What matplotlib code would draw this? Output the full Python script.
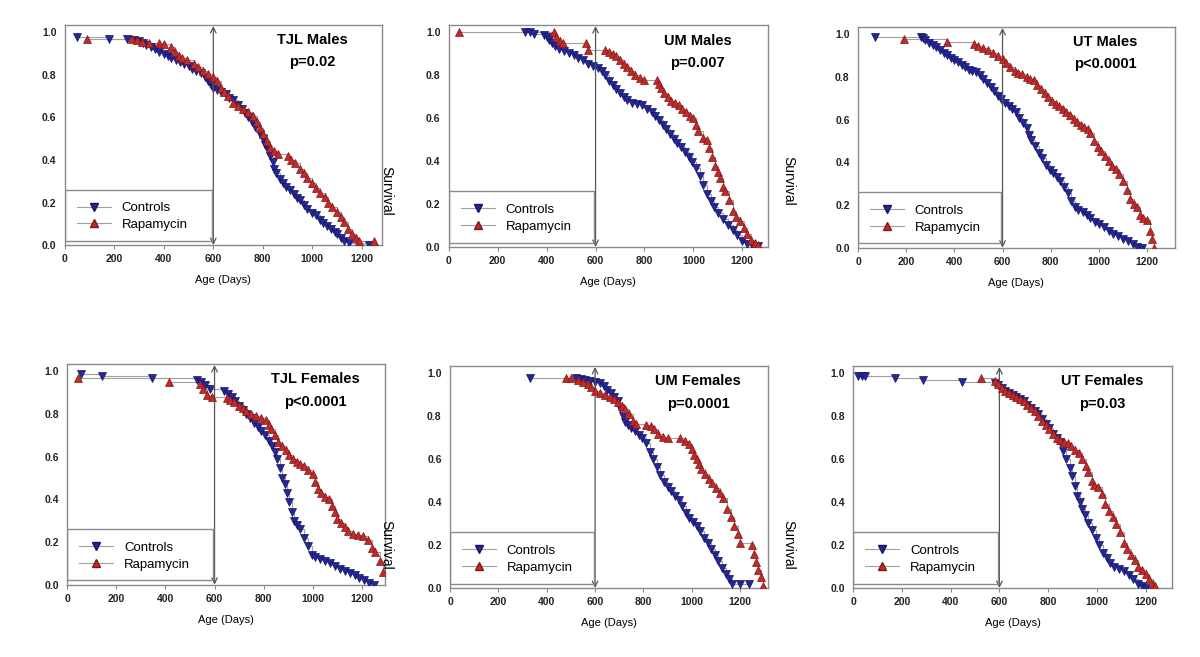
import matplotlib
matplotlib.use("Agg")
import matplotlib.pyplot as plt
from matplotlib.patches import Rectangle
from matplotlib.lines import Line2D

plt.rcParams['font.family'] = ['Liberation Sans', 'DejaVu Sans']

# --- data: (age in days, fraction surviving) ---
tjl_m_ctrl = [(50, .98), (180, .97), (250, .97), (280, .965), (300, .96), (315, .95), (330, .94), (350, .93),
              (365, .92), (380, .91), (400, .90), (415, .89), (430, .88), (450, .87), (465, .86), (480, .85),
              (500, .84), (515, .83), (530, .82), (550, .81), (565, .79), (580, .77), (590, .755), (600, .74),
              (615, .73), (630, .72), (650, .71), (665, .69), (680, .68), (700, .66), (715, .64), (730, .62),
              (740, .60), (755, .58), (770, .555), (790, .52), (800, .50), (810, .47), (820, .445), (830, .42),
              (840, .39), (845, .36), (855, .34), (870, .31), (880, .29), (895, .275), (910, .26), (925, .24),
              (940, .22), (950, .21), (965, .19), (980, .17), (1000, .15), (1015, .14), (1030, .12),
              (1045, .105), (1060, .09), (1075, .075), (1090, .06), (1100, .05), (1115, .035), (1130, .02),
              (1150, .01), (1230, 0.0)]
tjl_m_rapa = [(90, .97), (270, .97), (290, .965), (310, .955), (340, .95), (380, .95), (400, .945), (430, .93),
              (445, .91), (460, .89), (475, .88), (495, .87), (520, .85), (540, .835), (560, .82), (580, .805),
              (600, .79), (615, .77), (630, .74), (645, .72), (660, .70), (680, .67), (700, .655), (720, .64),
              (740, .625), (760, .605), (775, .58), (790, .55), (800, .52), (815, .49), (830, .455), (845, .44),
              (860, .43), (900, .42), (915, .40), (930, .385), (950, .36), (965, .34), (980, .315), (1000, .29),
              (1015, .27), (1030, .245), (1050, .225), (1065, .20), (1080, .18), (1100, .155), (1115, .13),
              (1130, .11), (1145, .075), (1160, .05), (1175, .035), (1190, .02), (1250, .02)]

um_m_ctrl = [(310, 1.0), (330, 1.0), (350, .995), (390, .99), (400, .98), (410, .965), (420, .95), (435, .935),
             (450, .925), (470, .915), (490, .905), (510, .895), (530, .88), (550, .87), (570, .855), (590, .845),
             (610, .835), (625, .82), (640, .80), (655, .775), (670, .755), (685, .735), (700, .72), (715, .70),
             (730, .685), (750, .67), (770, .665), (790, .66), (810, .645), (830, .63), (845, .61), (860, .59),
             (875, .57), (890, .55), (905, .525), (920, .505), (935, .485), (950, .465), (965, .445), (980, .42),
             (995, .395), (1010, .37), (1025, .33), (1040, .29), (1055, .245), (1070, .215), (1085, .185),
             (1100, .16), (1120, .13), (1140, .105), (1160, .08), (1180, .055), (1200, .03), (1220, .015),
             (1240, .01), (1265, .005)]
um_m_rapa = [(40, 1.0), (430, 1.0), (440, .98), (455, .96), (465, .95), (560, .95), (570, .92), (640, .92),
             (655, .91), (670, .90), (685, .89), (700, .87), (715, .855), (730, .84), (745, .82), (760, .80),
             (780, .79), (800, .78), (850, .78), (858, .76), (866, .74), (880, .72), (895, .70), (910, .68),
             (925, .67), (940, .66), (955, .645), (970, .63), (985, .61), (1000, .60), (1010, .57), (1020, .54),
             (1040, .51), (1055, .50), (1065, .46), (1075, .42), (1090, .38), (1100, .35), (1110, .32),
             (1120, .28), (1130, .26), (1145, .22), (1160, .17), (1175, .14), (1190, .12), (1205, .09),
             (1220, .06), (1235, .035), (1250, .02), (1265, .01)]

ut_m_ctrl = [(70, .99), (260, .99), (270, .985), (280, .975), (295, .96), (310, .95), (325, .94), (340, .925),
             (355, .915), (370, .905), (385, .89), (400, .88), (415, .87), (430, .855), (445, .845), (460, .835),
             (475, .83), (490, .825), (505, .81), (520, .79), (535, .77), (550, .755), (565, .735), (580, .71),
             (595, .695), (610, .68), (625, .665), (640, .65), (655, .635), (670, .61), (685, .585), (700, .56),
             (710, .53), (720, .505), (735, .475), (750, .445), (765, .42), (780, .39), (795, .365), (810, .35),
             (825, .33), (840, .315), (855, .285), (870, .255), (885, .22), (900, .19), (915, .175), (935, .165),
             (950, .155), (965, .14), (985, .12), (1000, .11), (1020, .095), (1040, .08), (1060, .065),
             (1080, .055), (1100, .04), (1120, .03), (1140, .015), (1160, .005), (1180, 0.0)]
ut_m_rapa = [(190, .98), (370, .965), (480, .955), (500, .945), (520, .935), (540, .925), (560, .915), (580, .90),
             (600, .885), (615, .865), (630, .845), (650, .83), (665, .82), (680, .815), (700, .80), (715, .79),
             (730, .785), (745, .765), (760, .745), (775, .725), (790, .705), (805, .69), (820, .675), (835, .665),
             (850, .65), (865, .635), (880, .62), (895, .605), (910, .59), (925, .575), (940, .565), (955, .555),
             (965, .54), (980, .50), (995, .47), (1010, .455), (1025, .43), (1040, .405), (1055, .385),
             (1070, .37), (1085, .345), (1100, .315), (1115, .27), (1130, .23), (1145, .205), (1160, .19),
             (1170, .155), (1185, .14), (1200, .13), (1210, .08), (1220, .04), (1230, 0.0)]

tjl_f_ctrl = [(55, .99), (140, .98), (345, .97), (530, .96), (545, .95), (560, .935), (580, .92), (640, .91),
              (655, .895), (670, .88), (685, .86), (700, .84), (715, .82), (730, .80), (745, .78), (760, .76),
              (775, .74), (790, .72), (805, .70), (820, .675), (835, .65), (845, .62), (855, .59), (865, .545),
              (875, .50), (885, .47), (895, .43), (905, .39), (915, .34), (925, .30), (935, .28), (950, .26),
              (965, .22), (980, .18), (995, .14), (1010, .13), (1030, .12), (1050, .11), (1070, .10), (1090, .09),
              (1110, .075), (1130, .065), (1150, .055), (1170, .045), (1190, .03), (1210, .02), (1230, .01),
              (1250, 0.0)]
tjl_f_rapa = [(45, .97), (415, .95), (540, .94), (555, .92), (570, .89), (590, .88), (650, .875), (665, .865),
              (680, .855), (700, .84), (715, .83), (730, .815), (750, .80), (770, .79), (790, .78), (810, .77),
              (820, .75), (830, .73), (845, .70), (860, .67), (875, .65), (890, .63), (905, .61), (920, .59),
              (935, .575), (950, .565), (965, .555), (980, .54), (1000, .52), (1010, .48), (1020, .45),
              (1035, .43), (1050, .41), (1065, .40), (1080, .37), (1090, .34), (1100, .31), (1115, .29),
              (1130, .27), (1145, .25), (1165, .24), (1185, .235), (1205, .23), (1225, .21), (1240, .17),
              (1255, .155), (1275, .11), (1285, .06)]

um_f_ctrl = [(330, .98), (520, .98), (540, .975), (560, .97), (580, .965), (600, .96), (620, .955), (635, .94),
             (650, .925), (665, .91), (680, .89), (695, .87), (705, .84), (715, .80), (725, .775), (735, .76),
             (750, .745), (765, .73), (780, .715), (795, .70), (810, .675), (825, .635), (840, .60), (855, .565),
             (870, .525), (885, .495), (900, .47), (915, .45), (930, .43), (945, .41), (960, .38), (975, .35),
             (990, .325), (1005, .31), (1020, .29), (1035, .265), (1050, .235), (1065, .21), (1080, .18),
             (1095, .155), (1110, .125), (1125, .095), (1140, .065), (1155, .04), (1165, .02), (1200, .02),
             (1235, .02)]
um_f_rapa = [(480, .98), (500, .98), (530, .97), (550, .96), (570, .95), (585, .935), (600, .92), (620, .91),
             (640, .90), (660, .89), (680, .88), (695, .865), (710, .85), (725, .835), (740, .81), (755, .78),
             (770, .765), (810, .76), (830, .755), (845, .74), (860, .72), (880, .705), (900, .70), (950, .70),
             (970, .685), (990, .67), (1000, .65), (1010, .62), (1020, .60), (1030, .58), (1040, .555),
             (1055, .53), (1070, .51), (1085, .49), (1100, .465), (1115, .445), (1130, .42), (1145, .37),
             (1160, .33), (1175, .29), (1190, .25), (1200, .21), (1250, .20), (1258, .16), (1265, .12),
             (1275, .085), (1285, .05), (1295, .01)]

ut_f_ctrl = [(20, .99), (35, .99), (50, .99), (170, .98), (285, .97), (445, .96), (580, .955), (595, .945),
             (610, .93), (625, .92), (640, .91), (655, .90), (670, .89), (685, .88), (700, .87), (715, .855),
             (730, .84), (745, .825), (760, .81), (775, .79), (790, .765), (805, .745), (820, .72), (835, .70),
             (850, .68), (862, .64), (875, .60), (888, .56), (900, .52), (910, .475), (920, .43), (930, .40),
             (940, .37), (950, .34), (965, .305), (980, .27), (995, .235), (1010, .20), (1025, .165), (1040, .14),
             (1055, .115), (1070, .10), (1090, .09), (1110, .08), (1130, .06), (1150, .04), (1170, .02),
             (1185, .01), (1200, 0.0)]
ut_f_rapa = [(525, .98), (580, .965), (595, .95), (610, .93), (625, .92), (640, .91), (655, .90), (670, .89),
             (685, .88), (700, .87), (715, .855), (730, .84), (745, .825), (760, .80), (775, .78), (790, .76),
             (805, .74), (820, .72), (835, .70), (850, .69), (865, .68), (880, .675), (895, .66), (910, .645),
             (925, .63), (940, .60), (955, .57), (965, .54), (980, .50), (990, .48), (1005, .47), (1020, .44),
             (1035, .39), (1050, .36), (1065, .33), (1080, .30), (1095, .26), (1110, .21), (1125, .18),
             (1140, .155), (1155, .13), (1170, .10), (1185, .085), (1200, .065), (1215, .04), (1230, .02),
             (1240, .01)]

titles = ["TJL Males", "UM Males", "UT Males", "TJL Females", "UM Females", "UT Females"]
pvalues = ["p=0.02", "p=0.007", "p<0.0001", "p<0.0001", "p=0.0001", "p=0.03"]
series_names = ["Controls", "Rapamycin"]
x_ticks = [0, 200, 400, 600, 800, 1000, 1200]
y_ticks = [0.0, 0.2, 0.4, 0.6, 0.8, 1.0]

panels = [(tjl_m_ctrl, tjl_m_rapa), (um_m_ctrl, um_m_rapa), (ut_m_ctrl, ut_m_rapa),
          (tjl_f_ctrl, tjl_f_rapa), (um_f_ctrl, um_f_rapa), (ut_f_ctrl, ut_f_rapa)]

# axes rectangles (figure fraction) and x upper limits
rects = [
    (0.054, 0.627, 0.264, 0.335),
    (0.374, 0.624, 0.266, 0.338),
    (0.715, 0.623, 0.264, 0.336),
    (0.056, 0.110, 0.265, 0.336),
    (0.375, 0.105, 0.265, 0.338),
    (0.711, 0.105, 0.266, 0.338),
]
xmax = [1280, 1305, 1315, 1295, 1315, 1310]

blue = '#23279a'
blue_edge = '#14145e'
red = '#c22a2a'
red_edge = '#7e1818'
gray = '#8a8a8a'
step_gray = '#a0a0a0'

fig = plt.figure(figsize=(12, 6.57), dpi=100)

for i, (ctrl, rapa) in enumerate(panels):
    ax = fig.add_axes(rects[i])
    ca, cs = zip(*ctrl)
    ra, rs = zip(*rapa)
    ax.step(ca, cs, where='post', color=step_gray, lw=0.8, zorder=2)
    ax.step(ra, rs, where='post', color=step_gray, lw=0.8, zorder=2)
    ax.plot(ca, cs, ls='none', marker='v', ms=6, mfc=blue, mec=blue_edge, mew=0.5, zorder=3)
    ax.plot(ra, rs, ls='none', marker='^', ms=6, mfc=red, mec=red_edge, mew=0.5, zorder=4)

    ax.set_xlim(0, xmax[i])
    ax.set_ylim(0, 1.035)
    ax.set_xticks(x_ticks)
    ax.set_yticks(y_ticks)
    ax.set_yticklabels([f"{v:.1f}" for v in y_ticks])
    ax.tick_params(axis='both', labelsize=7.5, colors='#222222', length=3, width=0.8, color=gray)
    ax.tick_params(axis='y', length=0, pad=6)
    for lab in ax.get_xticklabels() + ax.get_yticklabels():
        lab.set_fontweight('bold')
    for sp in ax.spines.values():
        sp.set_color(gray)
        sp.set_linewidth(1.0)
    ax.set_xlabel("Age (Days)", fontsize=8, labelpad=8)

    # treatment start at 600 days
    ax.annotate('', xy=(600, 1.03), xytext=(600, 0.0),
                arrowprops=dict(arrowstyle='<->', color='#555555', lw=0.9,
                                shrinkA=0, shrinkB=0))

    # legend box
    ax.add_patch(Rectangle((0, 0.02), 595, 0.24, fill=False, ec=gray, lw=1.0, zorder=5))
    handles = [
        Line2D([], [], color=step_gray, lw=0.8, marker='v', ms=6, mfc=blue, mec=blue_edge),
        Line2D([], [], color=step_gray, lw=0.8, marker='^', ms=6, mfc=red, mec=red_edge),
    ]
    ax.legend(handles, series_names, loc='lower left',
              bbox_to_anchor=(0.0, 0.01), frameon=False, fontsize=9.5,
              handlelength=2.6, numpoints=1, labelspacing=0.35, handletextpad=0.8)

    ax.text(0.78, 0.93, titles[i], transform=ax.transAxes, ha='center', va='center',
            fontsize=10.5, fontweight='bold')
    ax.text(0.78, 0.83, pvalues[i], transform=ax.transAxes, ha='center', va='center',
            fontsize=10.5, fontweight='bold')

# stray "Survival" labels from the original layout
for fx, fy in [(0.322, 0.71), (0.657, 0.725), (0.322, 0.17), (0.657, 0.17)]:
    fig.text(fx, fy, "Survival", rotation=-90, fontsize=10, ha='center', va='center')

fig.savefig("out.png", dpi=100)
